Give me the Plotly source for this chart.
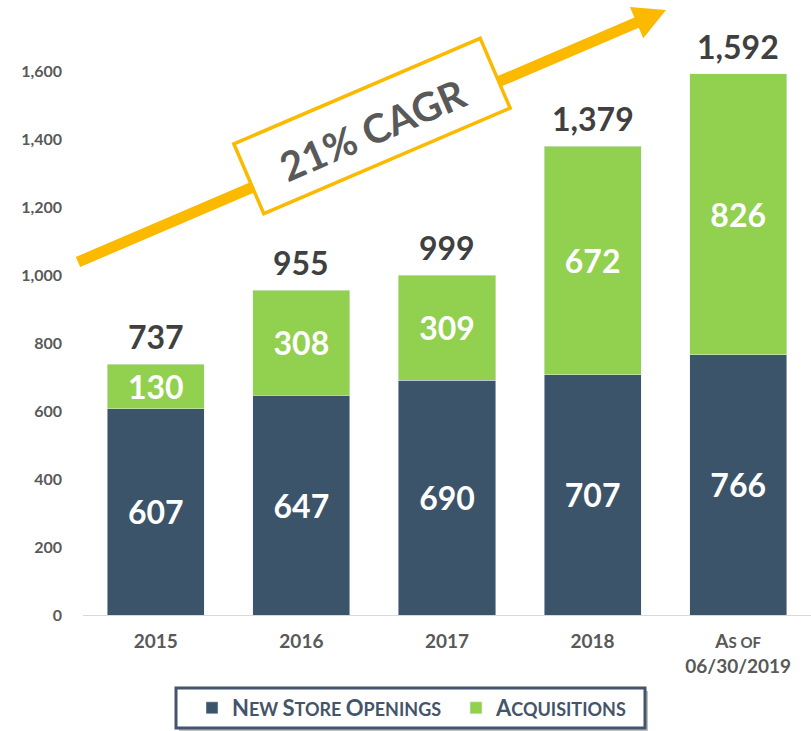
import math
import plotly.graph_objects as go

# ---- data ----
categories = ["2015", "2016", "2017", "2018", "As of 06/30/2019"]
tick_labels = ["2015", "2016", "2017", "2018",
               "A<span style='font-size:15px'>S OF</span><br>06/30/2019"]
new_store_openings = [607, 647, 690, 707, 766]
acquisitions = [130, 308, 309, 672, 826]
totals = [737, 955, 999, 1379, 1592]
cagr_label = "21% CAGR"

DARK = "#3C5469"
GREEN = "#92D050"
GOLD = "#FBBA00"
FONT = "Lato"

W, H = 811, 731
ML, MR, MT, MB = 83, 0, 3, 116
PW, PH = W - ML - MR, H - MT - MB


def P(x, y):
    """pixel -> paper coords"""
    return (x - ML) / PW, (H - MB - y) / PH


def path(points):
    s = ""
    for i, (x, y) in enumerate(points):
        px, py = P(x, y)
        s += ("M" if i == 0 else "L") + f"{px:.5f},{py:.5f} "
    return s + "Z"


SC = "font-size:18px"
fig = go.Figure()
fig.add_trace(go.Bar(
    name=f"N<span style='{SC}'>EW </span>S<span style='{SC}'>TORE </span>O<span style='{SC}'>PENINGS</span>",
    x=categories, y=new_store_openings, marker_color=DARK,
    text=new_store_openings, textposition="inside", insidetextanchor="middle",
    textfont=dict(family=FONT, size=32, color="white", weight="bold"),
    constraintext="none", hoverinfo="skip"))
fig.add_trace(go.Bar(
    name=f"A<span style='{SC}'>CQUISITIONS</span>",
    x=categories, y=acquisitions, marker_color=GREEN,
    text=acquisitions, textposition="inside", insidetextanchor="middle",
    textfont=dict(family=FONT, size=32, color="white", weight="bold"),
    constraintext="none", hoverinfo="skip"))

annotations = []
for i, t in enumerate(totals):
    annotations.append(dict(x=i, y=t, xref="x", yref="y", text=f"{t:,}", showarrow=False,
                            xanchor="center", yanchor="bottom", yshift=6,
                            font=dict(family=FONT, size=32, color="#404040", weight="bold")))

shapes = []
# growth arrow
tail = (78, 262)
tip = (666, 10)
dx, dy = tip[0] - tail[0], tip[1] - tail[1]
L = math.hypot(dx, dy)
ux, uy = dx / L, dy / L
nx, ny = -uy, ux
hs, hl, hw = 5.5, 32, 17
base = (tip[0] - ux * hl, tip[1] - uy * hl)
arrow_pts = [
    (tail[0] + nx * hs, tail[1] + ny * hs),
    (base[0] + nx * hs, base[1] + ny * hs),
    (base[0] + nx * hw, base[1] + ny * hw),
    tip,
    (base[0] - nx * hw, base[1] - ny * hw),
    (base[0] - nx * hs, base[1] - ny * hs),
    (tail[0] - nx * hs, tail[1] - ny * hs),
]
shapes.append(dict(type="path", xref="paper", yref="paper", path=path(arrow_pts),
                   fillcolor=GOLD, line=dict(width=0), layer="above"))

# CAGR box
cx, cy = 372, 126
bl, bh = 268, 76
ang = math.atan2(-dy, dx)
ca, sa = math.cos(ang), math.sin(ang)


def rot(px, py):
    return cx + px * ca + py * sa, cy - px * sa + py * ca


box_pts = [rot(-bl / 2, -bh / 2), rot(bl / 2, -bh / 2), rot(bl / 2, bh / 2), rot(-bl / 2, bh / 2)]
shapes.append(dict(type="path", xref="paper", yref="paper", path=path(box_pts),
                   fillcolor="white", line=dict(color=GOLD, width=3.5), layer="above"))
bx, by = P(cx, cy + 4)
annotations.append(dict(x=bx, y=by, xref="paper", yref="paper", text=cagr_label,
                        showarrow=False, textangle=-math.degrees(ang),
                        xanchor="center", yanchor="middle",
                        font=dict(family=FONT, size=40, color="#595959", weight="bold")))

# legend frame (with shadow)
sx0, sy0 = P(179, 691)
sx1, sy1 = P(648, 731)
shapes.append(dict(type="rect", xref="paper", yref="paper", x0=sx0, y0=sy0, x1=sx1, y1=sy1,
                   fillcolor="#BFBFBF", line=dict(width=0), layer="below"))
lx0, ly0 = P(176, 688)
lx1, ly1 = P(645, 728)
shapes.append(dict(type="rect", xref="paper", yref="paper", x0=lx0, y0=ly0, x1=lx1, y1=ly1,
                   fillcolor="white", line=dict(color="#44546A", width=3), layer="below"))

legx, legy = P(192, 708)

fig.update_layout(
    width=W, height=H,
    margin=dict(l=ML, r=MR, t=MT, b=MB),
    barmode="stack", bargap=0.333,
    plot_bgcolor="white", paper_bgcolor="white",
    font=dict(family=FONT, color="#595959"),
    showlegend=True,
    legend=dict(orientation="h", x=legx, y=legy, xanchor="left", yanchor="middle",
                font=dict(family=FONT, size=22, color="#44546A", weight="bold"),
                bgcolor="rgba(0,0,0,0)", borderwidth=0, entrywidth=219,
                traceorder="normal"),
    xaxis=dict(type="category", tickmode="array", tickvals=categories, ticktext=tick_labels,
               tickfont=dict(family=FONT, size=19, color="#595959", weight="bold"),
               showline=True, linecolor="#D9D9D9", linewidth=1, showgrid=False,
               ticklabelstandoff=9, range=[-0.5, 4.5], fixedrange=True),
    yaxis=dict(range=[0, 1800], tickvals=[0, 200, 400, 600, 800, 1000, 1200, 1400, 1600],
               tickformat=",", showgrid=False, zeroline=False, ticklabelstandoff=20,
               tickfont=dict(family=FONT, size=16, color="#595959", weight="bold")),
    annotations=annotations,
    shapes=shapes,
)

fig.write_html("out.html", config={"displayModeBar": False},
               post_script="document.body.style.margin='0';")
